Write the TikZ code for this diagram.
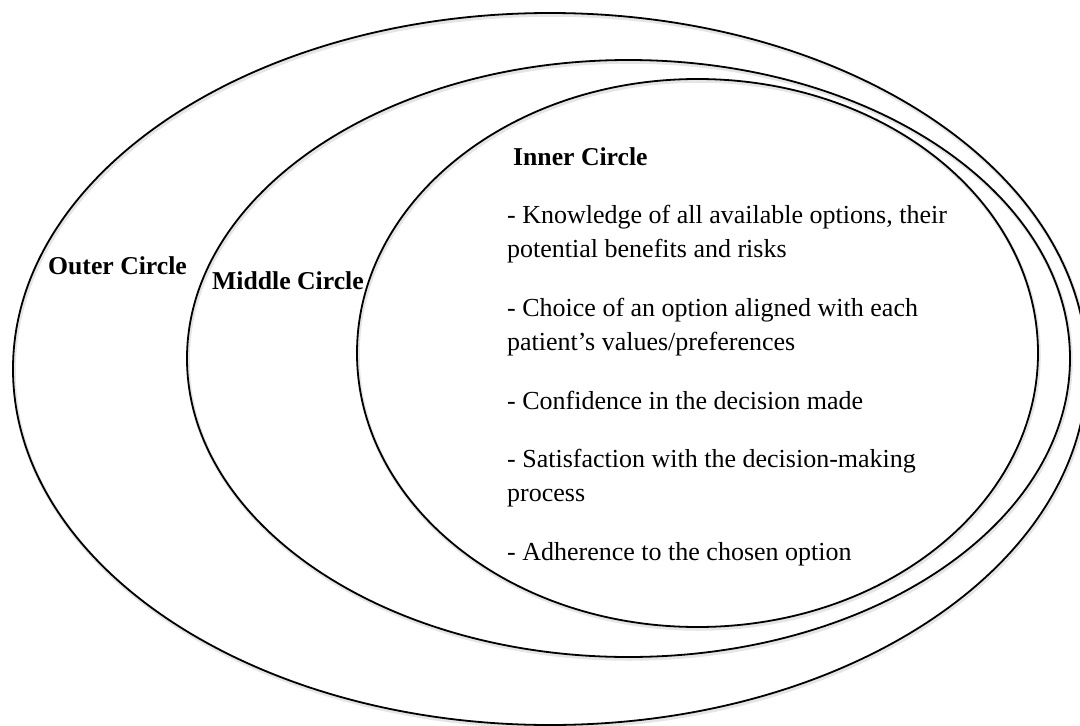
\documentclass[tikz,border=0pt]{standalone}
\usepackage{fontspec}
\setmainfont{Liberation Serif}
\usetikzlibrary{shapes.geometric}
\tikzset{
  ring/.style={ellipse, draw=black, line width=1.8pt, inner sep=0pt, fill=none},
  ringshadow/.style={ellipse, draw=black!10, line width=3.5pt, inner sep=0pt},
  head/.style={anchor=base west, inner sep=0pt, font=\fontsize{25.7}{30}\selectfont\bfseries},
  body/.style={anchor=base west, inner sep=0pt, font=\fontsize{26}{30}\selectfont}
}
\begin{document}
\begin{tikzpicture}[x=1pt,y=-1pt]
\useasboundingbox (0,0) rectangle (1080,726);
% soft shadows
\node[ringshadow, minimum width=1074pt, minimum height=712pt] (outers) at (551,371) {};
\node[ringshadow, minimum width=883pt, minimum height=597pt] (middles) at (629.5,360.5) {};
\node[ringshadow, minimum width=681pt, minimum height=548pt] (inners) at (698.5,355) {};
% rings
\node[ring, minimum width=1074pt, minimum height=712pt] (outer) at (550,369) {};
\node[ring, minimum width=883pt, minimum height=597pt] (middle) at (628.5,358.5) {};
\node[ring, minimum width=681pt, minimum height=548pt] (inner) at (697.5,353) {};
% labels
\node[head] (lo) at (48,274) {Outer Circle};
\node[head] (lm) at (212,289) {Middle Circle};
\node[head] (li) at (513,165) {Inner Circle};
\node[body] (a1) at (507,223) {- Knowledge of all available options, their};
\node[body] (a2) at (507,257) {potential benefits and risks};
\node[body] (b1) at (507,316) {- Choice of an option aligned with each};
\node[body] (b2) at (507,350) {patient’s values/preferences};
\node[body] (c1) at (507,409) {- Confidence in the decision made};
\node[body] (d1) at (507,467) {- Satisfaction with the decision-making};
\node[body] (d2) at (507,501) {process};
\node[body] (e1) at (507,560) {- Adherence to the chosen option};
\end{tikzpicture}
\end{document}
